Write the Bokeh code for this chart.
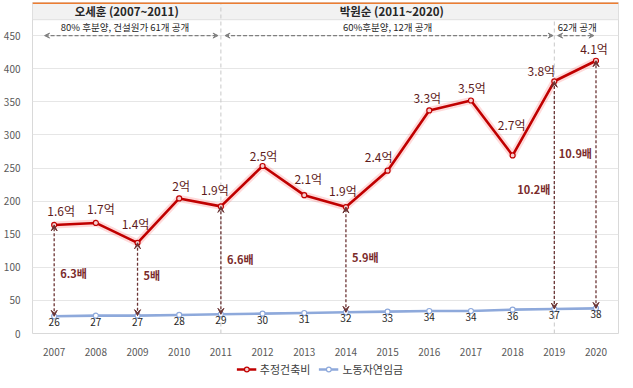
from bokeh.plotting import figure
from bokeh.layouts import column
from bokeh.models import (Range1d, FixedTicker, Arrow, VeeHead, Legend, LegendItem,
                          ColumnDataSource, Span, BoxAnnotation)
from bokeh.core.properties import value
from bokeh.embed import file_html
from bokeh.resources import INLINE

FONT = "Noto Sans CJK KR"

# ---- data ----
years = list(range(2007, 2021))
cost = [164, 167, 137, 204, 192, 253, 209, 191, 246, 337, 352, 269, 381, 412]
cost_labels = ["1.6억", "1.7억", "1.4억", "2억", "1.9억", "2.5억", "2.1억",
               "1.9억", "2.4억", "3.3억", "3.5억", "2.7억", "3.8억", "4.1억"]
wage = [26, 27, 27, 28, 29, 30, 31, 32, 33, 34, 34, 36, 37, 38]
wage_labels = ["26", "27", "27", "28", "29", "30", "31", "32", "33", "34", "34", "36", "37", "38"]

ratio_years = [2007, 2009, 2011, 2014, 2019, 2020]
ratio_labels = ["6.3배", "5배", "6.6배", "5.9배", "10.2배", "10.9배"]

series_names = ["추정건축비", "노동자연임금"]
mayors = ["오세훈 (2007~2011)", "박원순 (2011~2020)"]
policies = ["80% 후분양, 건설원가 61개 공개", "60%후분양, 12개 공개", "62개 공개"]
period_breaks = [2011, 2019]

# ---- layout tweaks (label placement, not data) ----
cost_dx = [7, 5, -2, 2, -6, 1, 4, -3, -9, -2, 1, -1, -13, -2]
cost_dy = [-6, -6, -11, -4, -8, -2, -8, -8, -6, -4, -4, -22, -2, -4]
ratio_label_y = [91, 88, 113, 116, 218, 272]
ratio_align = ["left", "left", "left", "left", "right", "right"]
ratio_dx = [6, 6, 6, 6, -4, -4]
mayor_x = [2008.74, 2015.1]
policy_x = [2008.7, 2015.0, 2019.55]
policy_arrow_x0 = [2006.77, 2011.1, 2019.08]
policy_arrow_x1 = [2010.93, 2018.97, 2019.95]

RED, BLUE = "#c00000", "#8ea9db"
X0, X1 = 2006.48, 2020.54
p = figure(frame_width=586, frame_height=331, output_backend="svg", toolbar_location=None,
           x_range=Range1d(X0, X1), y_range=Range1d(0, 500),
           min_border_left=2, min_border_right=3, min_border_top=2, min_border_bottom=0)
p.outline_line_color = "#d9d9d9"
p.background_fill_color = "white"

# header band
p.add_layout(BoxAnnotation(bottom=474, fill_color="#f2f2f2", fill_alpha=1, line_alpha=0,
                           level="underlay"))
p.add_layout(Span(location=474, dimension="width", line_color="#e0e0e0", line_width=1,
                  level="underlay"))
p.add_layout(Span(location=500, dimension="width", line_color="#ed7d31", line_width=3))

# axes
p.yaxis.ticker = FixedTicker(ticks=list(range(0, 451, 50)))
p.xaxis.ticker = FixedTicker(ticks=years)
p.ygrid.ticker = FixedTicker(ticks=list(range(50, 451, 50)))
p.ygrid.grid_line_color = "#e6e6e6"
p.xgrid.grid_line_color = None
for ax in (p.xaxis, p.yaxis):
    ax.axis_line_color = None
    ax.major_tick_line_color = None
    ax.minor_tick_line_color = None
    ax.major_label_text_font = FONT
    ax.major_label_text_font_size = "10px"
    ax.major_label_text_color = "#595959"
p.yaxis.major_label_standoff = 6
p.xaxis.major_label_standoff = 8

# period dividers
p.segment(x0=[period_breaks[0]], y0=[0], x1=[period_breaks[0]], y1=[500],
          line_color="#c8c8c8", line_dash="4 3", line_width=1)
p.segment(x0=[period_breaks[1]], y0=[0], x1=[period_breaks[1]], y1=[474],
          line_color="#c8c8c8", line_dash="4 3", line_width=1)

# header texts
p.text(x=mayor_x, y=[487] * 2, text=mayors, text_font=value(FONT), text_font_size="11.5px",
       text_font_style="bold", text_color="#262626", text_align="center", text_baseline="middle")
p.text(x=policy_x, y=[463] * 3, text=policies, text_font=value(FONT), text_font_size="9.5px",
       text_color="#262626", text_align="center", text_baseline="middle")
p.add_layout(Arrow(x_start="x0", y_start="y", x_end="x1", y_end="y",
                   source=ColumnDataSource(dict(x0=policy_arrow_x0, x1=policy_arrow_x1, y=[450] * 3)),
                   line_color="#7f7f7f", line_dash="4 2", line_width=1.3,
                   start=VeeHead(size=5, line_color="#7f7f7f", fill_color="#7f7f7f"),
                   end=VeeHead(size=5, line_color="#7f7f7f", fill_color="#7f7f7f")))

# lines
src = ColumnDataSource(dict(x=years, cost=cost, wage=wage, cl=cost_labels, wl=wage_labels,
                            dx=cost_dx, dy=cost_dy))
p.line("x", "cost", source=src, line_color="#ff3030", line_width=7, line_alpha=0.18)
p.line("x", "cost", source=src, line_color=RED, line_width=2.6)
p.scatter("x", "cost", source=src, size=5, fill_color="#f6d0d0", line_color=RED, line_width=1.2)
p.line("x", "wage", source=src, line_color=BLUE, line_width=2.6)
p.scatter("x", "wage", source=src, size=5, fill_color="white", line_color=BLUE, line_width=1.2)

# ratio arrows
wage_at = {y: w for y, w in zip(years, wage)}
cost_at = {y: c for y, c in zip(years, cost)}
rsrc = ColumnDataSource(dict(x=ratio_years, yt=[cost_at[y] for y in ratio_years],
                             yb=[wage_at[y] for y in ratio_years], ly=ratio_label_y,
                             lab=ratio_labels, al=ratio_align, dx=ratio_dx))
p.add_layout(Arrow(x_start="x", y_start="yb", x_end="x", y_end="yt", source=rsrc,
                   line_color="#6b3434", line_dash="3 2", line_width=1.3,
                   start=VeeHead(size=6, line_color="#6b3434", fill_color="#6b3434"),
                   end=VeeHead(size=6, line_color="#6b3434", fill_color="#6b3434")))
p.text(x="x", y="ly", text="lab", source=rsrc, text_align="al", x_offset="dx",
       text_baseline="middle", text_font=value(FONT), text_font_size="11px",
       text_font_style="bold", text_color="#7b2c2c")

# point labels
p.text(x="x", y="cost", text="cl", source=src, x_offset="dx", y_offset="dy",
       text_align="center", text_baseline="bottom", text_font=value(FONT),
       text_font_size="12px", text_color="#5e1b1b")
p.text(x="x", y="wage", text="wl", source=src, y_offset=2,
       text_align="center", text_baseline="top", text_font=value(FONT),
       text_font_size="10px", text_color="#262626")

# legend strip (separate small figure below); one hidden sample per series so the
# legend can draw its glyphs (NaN -> nothing drawn in the strip itself)
nan = float("nan")
lg = figure(width=610, height=19, output_backend="svg", toolbar_location=None,
            x_range=Range1d(0, 1), y_range=Range1d(0, 1),
            min_border_left=0, min_border_right=0, min_border_top=0, min_border_bottom=0)
lg.axis.visible = False
lg.grid.visible = False
lg.outline_line_color = None
lsrc = ColumnDataSource(dict(x=[nan], y=[nan]))
lr1 = lg.line("x", "y", source=lsrc, line_color=RED, line_width=2.6)
lr2 = lg.scatter("x", "y", source=lsrc, size=5, fill_color="#f6d0d0", line_color=RED, line_width=1.2)
lb1 = lg.line("x", "y", source=lsrc, line_color=BLUE, line_width=2.6)
lb2 = lg.scatter("x", "y", source=lsrc, size=5, fill_color="white", line_color=BLUE, line_width=1.2)
legend = Legend(items=[LegendItem(label=series_names[0], renderers=[lr1, lr2], index=0),
                       LegendItem(label=series_names[1], renderers=[lb1, lb2], index=0)],
                orientation="horizontal", location="bottom_center",
                label_text_font=FONT, label_text_font_size="11px", label_text_color="#404040",
                border_line_color=None, background_fill_alpha=0,
                glyph_width=20, glyph_height=12, spacing=8, padding=0, margin=0,
                label_standoff=4, label_height=14)
lg.add_layout(legend)

layout = column(p, lg, spacing=0)
open("out.html", "w").write(file_html(layout, INLINE))
